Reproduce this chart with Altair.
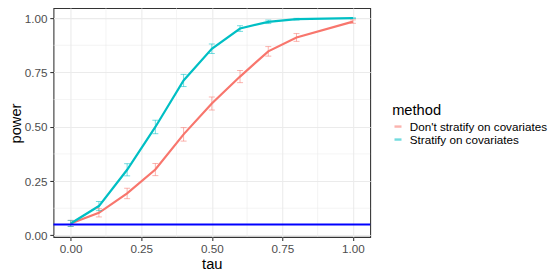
import altair as alt
import pandas as pd

tau = [0.0, 0.1, 0.2, 0.3, 0.4, 0.5, 0.6, 0.7, 0.8, 1.0]
power_dont = [0.055, 0.104, 0.193, 0.303, 0.465, 0.607, 0.731, 0.847, 0.911, 0.984]
err_dont = [0.014, 0.019, 0.024, 0.028, 0.031, 0.030, 0.028, 0.022, 0.018, 0.008]
power_strat = [0.055, 0.135, 0.302, 0.499, 0.713, 0.859, 0.952, 0.983, 0.995, 1.0]
err_strat = [0.014, 0.021, 0.028, 0.031, 0.028, 0.022, 0.013, 0.008, 0.004, 0.001]
methods = ["Don't stratify on covariates", "Stratify on covariates"]
colors = ["#F8766D", "#00BFC4"]
ticks = [0.0, 0.25, 0.5, 0.75, 1.0]
minor = [0.125, 0.375, 0.625, 0.875]
alpha_level = [0.05]

rows = []
for m, p, e in [(methods[0], power_dont, err_dont), (methods[1], power_strat, err_strat)]:
    for t, pv, ev in zip(tau, p, e):
        rows.append({"tau": t, "power": pv, "lo": pv - ev, "hi": pv + ev, "method": m})
df = pd.DataFrame(rows)
minor_df = pd.DataFrame({"v": minor})
h_df = pd.DataFrame({"v": alpha_level})

FONT = "Liberation Sans"
xscale = alt.Scale(domain=[-0.061, 1.061], nice=False, zero=False)
yscale = alt.Scale(domain=[-0.007, 1.046], nice=False, zero=False)
xaxis = alt.Axis(values=ticks, format=".2f", title="tau", titleX=158.5, titleY=28,
                 titleBaseline="middle", titleAnchor="middle")
yaxis = alt.Axis(values=ticks, format=".2f", title="power", titleX=-37, titleY=115,
                 titleBaseline="middle", titleAngle=270)

color = alt.Color("method:N", scale=alt.Scale(domain=methods, range=colors),
                  legend=alt.Legend(title="method", orient="none", legendX=339, legendY=95,
                                    symbolType="stroke", symbolSize=49, symbolStrokeWidth=2.4,
                                    labelOffset=6, rowPadding=-5, titlePadding=3))

base = alt.Chart(df)

gx = alt.Chart(minor_df).mark_rule(color="#EBEBEB", strokeWidth=0.53).encode(
    x=alt.X("v:Q", scale=xscale, axis=xaxis))
gy = alt.Chart(minor_df).mark_rule(color="#EBEBEB", strokeWidth=0.53).encode(
    y=alt.Y("v:Q", scale=yscale, axis=yaxis))

lines = base.mark_line(strokeWidth=2.2).encode(
    x=alt.X("tau:Q", scale=xscale, axis=xaxis),
    y=alt.Y("power:Q", scale=yscale, axis=yaxis),
    color=color)
bars = base.mark_rule(strokeWidth=1, opacity=0.55).encode(
    x=alt.X("tau:Q", scale=xscale, axis=xaxis),
    y=alt.Y("lo:Q", scale=yscale, axis=yaxis), y2="hi:Q",
    color=color)
cap_lo = base.mark_tick(orient="horizontal", size=6, thickness=1, opacity=0.55).encode(
    x=alt.X("tau:Q", scale=xscale, axis=xaxis),
    y=alt.Y("lo:Q", scale=yscale, axis=yaxis), color=color)
cap_hi = base.mark_tick(orient="horizontal", size=6, thickness=1, opacity=0.55).encode(
    x=alt.X("tau:Q", scale=xscale, axis=xaxis),
    y=alt.Y("hi:Q", scale=yscale, axis=yaxis), color=color)
hline = alt.Chart(h_df).mark_rule(color="#0000FF", strokeWidth=2).encode(
    y=alt.Y("v:Q", scale=yscale, axis=yaxis))

chart = alt.layer(gx, gy, lines, bars, cap_lo, cap_hi, hline).properties(
    width=317, height=229,
    autosize=alt.AutoSizeParams(type="none"),
    padding={"left": 45.5, "top": 0, "right": 182, "bottom": 35},
).configure_view(stroke="#333333", strokeWidth=1.07).configure_axis(
    domain=False, grid=True, gridColor="#EBEBEB", gridWidth=1.07,
    tickColor="#333333", tickSize=3.67, tickWidth=1.07,
    labelColor="#4D4D4D", labelFontSize=11.7, labelFont=FONT, labelPadding=2.9,
    titleColor="#000000", titleFontSize=14.7, titleFont=FONT, titleFontWeight="normal",
).configure_legend(
    titleFont=FONT, titleFontSize=14.7, titleFontWeight="normal", titleColor="#000000",
    labelFont=FONT, labelFontSize=11.7, labelColor="#000000",
)

chart.save("out.html", embed_options={"renderer": "svg", "actions": False})
